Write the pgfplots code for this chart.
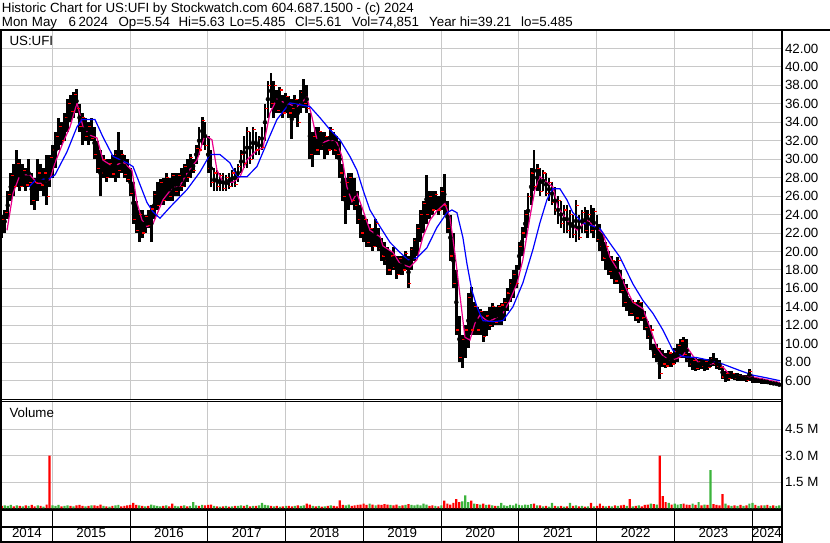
\documentclass[border=0pt]{standalone}
\usepackage{fontspec}
\setmainfont{Liberation Sans}
\usepackage{pgfplots}
\usepackage{pgfplotstable}
\pgfplotsset{compat=1.18}
\definecolor{gridc}{RGB}{200,200,200}
\definecolor{vgreen}{RGB}{60,180,60}
\newcommand\swfont{\fontsize{13.33}{16}\selectfont}

% biweekly high/low/close and volume (M)
\pgfplotstableread{
t lo hi cl vr vg
2014.350 21.5 24 23.5 0.15 nan
2014.388 22 24.5 24.2 nan 0.18
2014.427 23.5 26.5 26.2 nan 0.15
2014.465 25.5 28.5 28.2 nan 0.20
2014.504 26 29.5 27 0.12 nan
2014.542 27 31 29.5 nan 0.18
2014.581 26.5 30 27 0.15 nan
2014.619 27 29.5 28.8 nan 0.12
2014.658 26.5 29 27.2 0.18 nan
2014.696 27 30 27.5 nan 0.15
2014.735 25 28.5 25.5 0.20 nan
2014.773 24.5 28 27.5 0.12 nan
2014.812 25.5 30 28.5 nan 0.18
2014.850 26.5 29.5 27.2 0.15 nan
2014.888 26 29 28.5 nan 0.10
2014.927 25 30.5 26 0.22 nan
2014.965 27 30.5 30.2 3.00 nan
2015.004 28 31.5 31 nan 0.18
2015.042 29 33 32.5 nan 0.15
2015.081 31 34.5 33.5 nan 0.20
2015.119 31.5 34 32 0.12 nan
2015.158 32 35 34.5 nan 0.15
2015.196 33 36.5 36 nan 0.18
2015.235 34 37 35.2 0.15 nan
2015.273 34.5 37.3 37 nan 0.12
2015.312 35 37.6 35.5 0.18 nan
2015.350 33 36 33.5 0.20 nan
2015.388 31.5 35 34.5 0.15 nan
2015.427 32 34.5 32.5 nan 0.12
2015.465 31.5 34 33.5 0.15 nan
2015.504 32 34.5 32.2 nan 0.18
2015.542 30 33.5 30.5 0.18 nan
2015.581 28.5 32 29 0.15 nan
2015.619 26 31 28.5 0.22 nan
2015.658 28 30.5 30 nan 0.15
2015.696 27.5 30 28 0.12 nan
2015.735 28 30 29.5 nan 0.10
2015.773 28 30.5 28.4 0.15 nan
2015.812 27.5 31 30.5 nan 0.18
2015.850 28 33 28.8 nan 0.20
2015.888 28.5 31 30.5 0.12 nan
2015.927 28 30.5 28.3 0.15 nan
2015.965 27.5 30 27.8 0.18 nan
2016.004 26 29 26.3 0.20 nan
2016.042 23 27.5 23.5 0.32 nan
2016.081 22 25.5 22.3 0.20 nan
2016.119 21 24.5 24 nan 0.18
2016.158 21.5 24.5 22 0.15 nan
2016.196 22 24 23.8 nan 0.12
2016.235 22.5 24.5 22.8 0.15 nan
2016.273 21 25 24.6 nan 0.22
2016.312 23.5 26.5 26.2 nan 0.18
2016.350 24.5 27.5 25 nan 0.15
2016.388 25 27.8 27.5 nan 0.12
2016.427 25 28 25.5 0.15 nan
2016.465 25.5 28.5 28 nan 0.18
2016.504 25.5 28 26 0.12 nan
2016.542 25.5 28.5 28.2 0.28 nan
2016.581 26 28.5 26.5 nan 0.15
2016.619 26 28.5 28.2 nan 0.12
2016.658 26.5 29 27 0.15 nan
2016.696 27 29.5 29.2 nan 0.18
2016.735 27.5 30 28 0.12 nan
2016.773 28 30.6 30.2 nan 0.15
2016.812 28.5 30 28.8 nan 0.36
2016.850 29.5 31.5 31.2 nan 0.18
2016.888 30.5 33.5 31 0.15 nan
2016.927 31.5 34.6 34.2 nan 0.20
2016.965 31 34 31.5 0.18 nan
2017.004 28.5 32.5 29 0.20 nan
2017.042 27 31 27.5 0.22 nan
2017.081 26.5 29 28.5 nan 0.15
2017.119 26.5 28.8 27 0.12 nan
2017.158 26.5 28.5 28.2 nan 0.10
2017.196 26.5 28.5 26.8 0.12 nan
2017.235 26.5 28.3 28 nan 0.15
2017.273 26.8 28.5 27 0.10 nan
2017.312 27 28.8 28.5 nan 0.12
2017.350 27 29 27.3 0.15 nan
2017.388 27.5 29.5 29.2 nan 0.15
2017.427 28.5 31 30.5 nan 0.18
2017.465 29 32.5 29.5 0.15 nan
2017.504 29 33.5 33 nan 0.20
2017.542 29.5 33 30 0.12 nan
2017.581 30 33.5 33.2 nan 0.15
2017.619 30.5 33 31 0.15 nan
2017.658 30.5 32.5 32.2 nan 0.18
2017.696 31 33.5 31.3 nan 0.32
2017.735 32 36 35.5 nan 0.20
2017.773 34.5 38.5 38 nan 0.18
2017.812 35.5 39.3 36 0.15 nan
2017.850 34.5 38.5 38 nan 0.12
2017.888 35 37.5 35.3 0.15 nan
2017.927 35 37.8 37.5 nan 0.10
2017.965 34.5 37 35 0.12 nan
2018.004 35 37.2 36.8 nan 0.15
2018.042 34.5 36.8 35 0.15 nan
2018.081 32.2 36.5 35.5 0.12 nan
2018.119 34.5 37 36.5 nan 0.15
2018.158 33.5 36.5 34 0.18 nan
2018.196 35 37.5 37.2 nan 0.15
2018.235 35.5 38.7 36 nan 0.18
2018.273 35 38 35.5 0.28 nan
2018.312 30 35 30.5 0.22 nan
2018.350 29.2 33 32.5 nan 0.15
2018.388 30.5 33.5 31 0.12 nan
2018.427 30.5 33.5 33 nan 0.15
2018.465 31 33 31.5 0.10 nan
2018.504 30 33 32.5 nan 0.12
2018.542 30.5 32.5 31 0.15 nan
2018.581 31 33.5 33.2 nan 0.18
2018.619 30.5 33 31 0.15 nan
2018.658 30 32.5 30.5 0.12 nan
2018.696 28 32 28.5 0.46 nan
2018.735 25.5 29.5 26 0.20 nan
2018.773 23 28 27.5 nan 0.18
2018.812 24.5 28.5 28 nan 0.22
2018.850 25 28.5 25.5 0.15 nan
2018.888 24.5 28 25 0.18 nan
2018.927 23 26.5 23.5 0.20 nan
2018.965 21.5 25 22 0.22 nan
2019.004 21 24 23.5 0.28 nan
2019.042 20.5 23.5 21 0.20 nan
2019.081 20.5 23 22.5 nan 0.28
2019.119 20 22.5 20.5 0.22 nan
2019.158 20.5 23.5 23 nan 0.18
2019.196 20 22.5 20.3 0.22 nan
2019.235 19 21.5 19.5 0.20 nan
2019.273 18.5 21 19 0.25 nan
2019.312 17.5 20.5 18 0.22 nan
2019.350 17.5 20 19.5 nan 0.20
2019.388 18 20.5 18.3 0.18 nan
2019.427 17 19.5 17.5 0.22 nan
2019.465 17.5 19.5 19.2 nan 0.15
2019.504 17.5 19.5 18 0.18 nan
2019.542 18 20 19.8 nan 0.20
2019.581 16 19.5 16.5 0.25 nan
2019.619 18 20.5 20.2 nan 0.20
2019.658 19 21.5 21.2 nan 0.18
2019.696 19.5 23 22.5 nan 0.22
2019.735 21 24.5 24 nan 0.18
2019.773 22 25.5 25.2 nan 0.28
2019.812 23 28.3 24 nan 0.22
2019.850 23.5 26.5 26 0.15 nan
2019.888 24 26.5 24.5 0.18 nan
2019.927 24.5 26.5 26.2 nan 0.15
2019.965 24 26 24.5 0.12 nan
2020.004 24.5 27 26.5 nan 0.18
2020.042 24 28.4 25 0.45 nan
2020.081 22 25.5 22.5 0.28 nan
2020.119 19 24 19.5 0.22 nan
2020.158 16 22 16.5 0.32 nan
2020.196 11 18 11.5 0.53 nan
2020.235 8 13 8.5 0.36 nan
2020.273 7.4 11 10.5 nan 0.40
2020.312 8.5 12 11.5 nan 0.74
2020.350 9.5 15.5 15 nan 0.36
2020.388 11 16.1 11.5 0.45 nan
2020.427 11 14.5 14 nan 0.28
2020.465 11 14 11.5 0.25 nan
2020.504 11 13.8 13.5 nan 0.22
2020.542 10.2 13.5 10.8 0.28 nan
2020.581 10.8 13.5 13 nan 0.20
2020.619 11.5 14 12 0.22 nan
2020.658 11.8 14.4 14 nan 0.18
2020.696 12 14 12.3 0.15 nan
2020.735 12 14.2 14 nan 0.15
2020.773 12 14.4 14.2 nan 0.32
2020.812 12.5 15 14.5 nan 0.18
2020.850 13.5 16 15.5 nan 0.15
2020.888 14.5 17 16.5 nan 0.20
2020.927 15 18 17.5 nan 0.18
2020.965 16 18.5 16.5 nan 0.28
2021.004 18 21 20.5 nan 0.20
2021.042 19.5 22.6 22 nan 0.18
2021.081 21.5 24.5 24 nan 0.22
2021.119 22.5 26.3 26 nan 0.20
2021.158 25 29 28.5 nan 0.25
2021.196 26.5 31 27 0.28 nan
2021.235 26.5 29.5 29 nan 0.18
2021.273 26 29 26.5 0.18 nan
2021.312 26.5 28.8 28.5 nan 0.12
2021.350 26 28.5 26.3 0.15 nan
2021.388 25.5 28 27.5 nan 0.10
2021.427 25 27.5 25.3 nan 0.32
2021.465 24 27 24.5 0.15 nan
2021.504 23 26 25.5 nan 0.12
2021.542 22.5 25.5 23 0.15 nan
2021.581 22 25 24.5 nan 0.10
2021.619 22 25 22.3 0.12 nan
2021.658 21.5 24.5 24 nan 0.32
2021.696 21.5 24 21.8 0.15 nan
2021.735 21 25.6 25 nan 0.18
2021.773 21.2 24 21.5 0.12 nan
2021.812 22 24.5 24.2 nan 0.15
2021.850 22 24.8 22.3 0.10 nan
2021.888 21.5 24.5 24 nan 0.12
2021.927 22 25 22.3 0.32 nan
2021.965 21.5 24.7 24.3 nan 0.12
2022.004 21 24 21.3 0.15 nan
2022.042 20 23 20.5 0.28 nan
2022.081 19 22 19.3 0.15 nan
2022.119 18 21 20.5 nan 0.12
2022.158 17.5 20 17.8 0.15 nan
2022.196 17 19.5 19 nan 0.12
2022.235 16.5 19 16.8 0.18 nan
2022.273 16.5 19.4 19 nan 0.15
2022.312 15.5 18 15.8 0.18 nan
2022.350 14 17 14.5 0.20 nan
2022.388 13.5 16.5 16 nan 0.15
2022.427 13 15 13.3 0.53 nan
2022.465 13 14.7 14.5 nan 0.12
2022.504 12.5 14.5 12.8 0.15 nan
2022.542 12.2 14.7 14.5 nan 0.18
2022.581 12.5 14.5 12.8 0.12 nan
2022.619 11.5 13.6 11.8 0.20 nan
2022.658 10.5 12.5 10.8 0.22 nan
2022.696 9.3 12 11.5 nan 0.28
2022.735 8.5 10 8.8 0.25 nan
2022.773 8 10 9.5 nan 0.22
2022.812 6.2 9.5 6.8 3.00 nan
2022.850 7.5 9.3 7.8 0.70 nan
2022.888 7.4 9 7.6 0.36 nan
2022.927 7.5 9.3 9 nan 0.32
2022.965 7.5 9 7.8 0.22 nan
2023.004 7.8 9.5 9.2 nan 0.28
2023.042 8 10 9.8 nan 0.22
2023.081 8.5 10.5 10.3 nan 0.25
2023.119 8.5 10.7 8.8 0.28 nan
2023.158 8 10.5 8.3 0.22 nan
2023.196 7.5 9 7.8 0.20 nan
2023.235 7.2 8.5 8.2 nan 0.28
2023.273 7.1 8.5 7.3 0.20 nan
2023.312 7.2 8.3 8.1 nan 0.36
2023.350 7.3 8.5 7.5 0.18 nan
2023.388 7.1 8.3 8.1 nan 0.22
2023.427 7.2 8.4 7.4 0.20 nan
2023.465 7.5 8.6 8.4 nan 2.17
2023.504 7.6 9 7.8 0.25 nan
2023.542 7.3 8.5 7.5 0.20 nan
2023.581 7.2 8.2 7.4 0.18 nan
2023.619 6.2 7.6 6.4 0.82 nan
2023.658 5.9 7 6.8 nan 0.28
2023.696 6 7 6.2 0.18 nan
2023.735 6.2 7 6.8 nan 0.15
2023.773 6.1 6.8 6.3 0.18 nan
2023.812 6 6.8 6.6 nan 0.15
2023.850 6 6.7 6.2 0.20 nan
2023.888 6 6.6 6.4 nan 0.15
2023.927 5.9 6.6 6.0 0.18 nan
2023.965 6 7.3 7 nan 0.28
2024.004 5.8 6.6 6 nan 0.32
2024.042 5.7 6.4 5.9 0.20 nan
2024.081 5.7 6.3 6.1 nan 0.15
2024.119 5.6 6.3 5.8 0.18 nan
2024.158 5.6 6.2 6.0 nan 0.18
2024.196 5.6 6.1 5.7 0.20 nan
2024.235 5.5 6.0 5.8 nan 0.15
2024.273 5.5 5.9 5.6 0.18 nan
2024.312 5.5 5.8 5.7 nan 0.15
2024.350 5.49 5.63 5.61 nan 0.18
}\ufi

\pgfplotsset{swchart/.style={
    scale only axis, width=780pt,
    xmin=2014.347, xmax=2024.378,
    xtick={2015,2016,...,2024}, xticklabels={},
    major tick length=0pt,
    grid=major, major grid style={gridc, line width=1pt},
    axis line style={black, line width=0.8pt},
    yticklabel pos=right,
    tick label style={font=\swfont},
    /pgf/number format/assume math mode=true,
}}

\begin{document}
\begin{tikzpicture}[x=1pt,y=1pt]
\path[use as bounding box] (0,0) rectangle (830,543);

% price panel
\begin{axis}[swchart,
    at={(1.5pt,143.5pt)}, anchor=south west,
    height=369.5pt,
    ymin=3.96, ymax=44,
    ytick={6,8,...,42},
    yticklabel style={/pgf/number format/.cd, fixed, fixed zerofill, precision=2},
]
\addplot[red, only marks, mark=-, mark size=1.5pt,
    mark options={xshift=1.5pt, line width=1.2pt}] table[x=t, y=cl]{\ufi};
\addplot[black, only marks, mark=none,
    error bars/.cd, y dir=both, y explicit, error mark=none,
    error bar style={line width=2.8pt, line cap=butt}]
    table[x=t, y expr=(\thisrow{lo}+\thisrow{hi})/2,
          y error expr=(\thisrow{hi}-\thisrow{lo})/2]{\ufi};
\addplot[magenta, line width=1.2pt] coordinates {
(2014.418,22.3) (2014.495,26.3) (2014.585,28.3) (2014.714,28.3) (2014.804,27.4)
(2014.881,27.4) (2014.971,27.8) (2015.035,29.6) (2015.138,31.8) (2015.228,33.5)
(2015.318,36.1) (2015.395,33.5) (2015.485,32.6) (2015.575,32.3) (2015.652,29.9)
(2015.781,29.2) (2015.909,29.7) (2016.025,28.8) (2016.089,25.3) (2016.154,23.4)
(2016.218,22.7) (2016.295,23.0) (2016.424,25.6) (2016.552,27.0) (2016.642,27.1)
(2016.732,28.5) (2016.861,29.9) (2016.964,32.6) (2017.054,32.1) (2017.118,28.8)
(2017.195,27.5) (2017.324,27.5) (2017.414,28.1) (2017.504,29.9) (2017.632,31.0)
(2017.709,31.2) (2017.799,35.0) (2017.889,36.5) (2018.018,36.0) (2018.147,35.7)
(2018.275,36.7) (2018.339,34.6) (2018.404,32.1) (2018.481,31.8) (2018.571,32.1)
(2018.661,31.8) (2018.725,30.3) (2018.789,27.0) (2018.854,25.4) (2018.918,26.3)
(2018.995,24.5) (2019.085,22.3) (2019.214,21.6) (2019.252,20.6) (2019.381,19.9)
(2019.471,18.7) (2019.599,18.3) (2019.689,19.1) (2019.767,21.6) (2019.857,23.4)
(2019.946,24.4) (2020.049,25.2) (2020.114,23.7) (2020.178,19.8) (2020.242,15.3)
(2020.307,10.7) (2020.371,10.4) (2020.435,12.2) (2020.499,13.1) (2020.589,12.5)
(2020.666,12.6) (2020.795,13.3) (2020.885,14.7) (2020.975,16.5) (2021.052,19.1)
(2021.142,23.7) (2021.207,26.7) (2021.271,28.1) (2021.361,27.5) (2021.438,27.0)
(2021.502,24.8) (2021.618,23.4) (2021.746,22.3) (2021.875,23.4) (2022.004,22.5)
(2022.081,22.0) (2022.171,19.4) (2022.299,17.6) (2022.389,15.8) (2022.466,14.5)
(2022.595,13.8) (2022.685,11.8) (2022.775,9.6) (2022.852,8.7) (2022.942,8.2)
(2023.032,8.4) (2023.109,8.7) (2023.174,9.5) (2023.238,8.7) (2023.328,7.8)
(2023.456,7.8) (2023.546,7.9) (2023.624,7.5) (2023.714,6.6) (2023.842,6.5)
(2024.009,6.4) (2024.189,6.1) (2024.356,5.8)};
\addplot[blue, line width=1.2pt] coordinates {
(2014.701,27.0) (2014.804,27.9) (2014.945,27.8) (2015.035,28.3) (2015.189,30.8)
(2015.318,33.5) (2015.382,34.3) (2015.549,34.3) (2015.652,32.4) (2015.781,30.3)
(2015.961,29.6) (2016.038,29.2) (2016.218,25.3) (2016.295,24.3) (2016.385,23.6)
(2016.514,24.8) (2016.732,26.7) (2016.899,28.6) (2017.028,30.5) (2017.157,30.5)
(2017.285,29.6) (2017.375,28.1) (2017.504,28.1) (2017.632,29.2) (2017.761,31.8)
(2017.889,34.3) (2018.056,36.1) (2018.314,35.7) (2018.442,34.5) (2018.571,33.2)
(2018.699,32.1) (2018.828,30.3) (2018.918,28.8) (2018.995,26.7) (2019.085,24.5)
(2019.214,22.7) (2019.342,21.0) (2019.471,19.9) (2019.574,19.1) (2019.689,19.3)
(2019.818,20.4) (2019.946,22.6) (2020.075,24.2) (2020.139,24.5) (2020.204,24.2)
(2020.281,21.5) (2020.332,18.7) (2020.396,15.8) (2020.461,14.0) (2020.538,12.5)
(2020.666,12.4) (2020.795,12.5) (2020.924,14.0) (2021.052,16.6) (2021.181,20.2)
(2021.271,23.1) (2021.361,25.6) (2021.438,26.8) (2021.528,26.8) (2021.618,25.6)
(2021.695,24.2) (2021.824,23.1) (2022.042,22.5) (2022.171,20.9) (2022.299,19.4)
(2022.466,16.5) (2022.595,14.7) (2022.724,13.3) (2022.852,11.5) (2022.981,9.3)
(2023.109,8.6) (2023.289,8.5) (2023.456,8.2) (2023.623,7.8) (2023.842,7.1)
(2024.009,6.6) (2024.189,6.3) (2024.356,6.0)};
\end{axis}

% volume panel
\begin{axis}[swchart,
    at={(1.5pt,34.5pt)}, anchor=south west,
    height=106.8pt,
    ymin=0, ymax=6.05,
    ytick={1.5,3,4.5}, yticklabels={1.5 M,3.0 M,4.5 M},
    ybar, bar width=2.2pt,
]
\addplot[fill=red, draw=none, bar shift=0pt] table[x=t, y=vr]{\ufi};
\addplot[fill=vgreen, draw=none, bar shift=0pt] table[x=t, y=vg]{\ufi};
\end{axis}

% frame
\draw[line width=2pt] (0,513) -- (830,513);
\draw[line width=2pt] (0.9,0) -- (0.9,514);
\draw[line width=2.5pt] (782,0) -- (782,514);
\draw[line width=2pt] (0,33) -- (782,33);
\draw[line width=2pt] (0,16.2) -- (782,16.2);
\draw[line width=2pt] (0,1.2) -- (782,1.2);
\foreach \bx in {52.29,130.07,207.85,285.63,363.41,441.19,518.97,596.75,674.53,752.31}
  \draw[line width=1pt] (\bx,1.2) -- (\bx,33);
\foreach \cx/\yr in {26.9/2014,91.2/2015,169.0/2016,246.7/2017,324.5/2018,402.3/2019,480.1/2020,557.9/2021,635.6/2022,713.4/2023,767.0/2024}
  \node[anchor=base, inner sep=0pt, font=\swfont] at (\cx,5) {\yr};

% texts
\node[anchor=base west, inner sep=0pt, font=\swfont] at (1.7,530.5)
  {Historic Chart for US:UFI by Stockwatch.com 604.687.1500 - (c) 2024};
\foreach \tx/\tt in {1.7/Mon,31.7/May,68.3/6,78.3/2024,118.3/Op=5.54,178.3/Hi=5.63,229.3/Lo=5.485,295/Cl=5.61,351.7/{Vol=74,851},429/Year hi=39.21,521/lo=5.485}
  \node[anchor=base west, inner sep=0pt, font=\swfont] at (\tx,516.3) {\tt};
\node[anchor=base west, inner sep=0pt, font=\swfont] at (9.3,497) {US:UFI};
\node[anchor=base west, inner sep=0pt, font=\swfont] at (9.3,125.3) {Volume};
\end{tikzpicture}
\end{document}
